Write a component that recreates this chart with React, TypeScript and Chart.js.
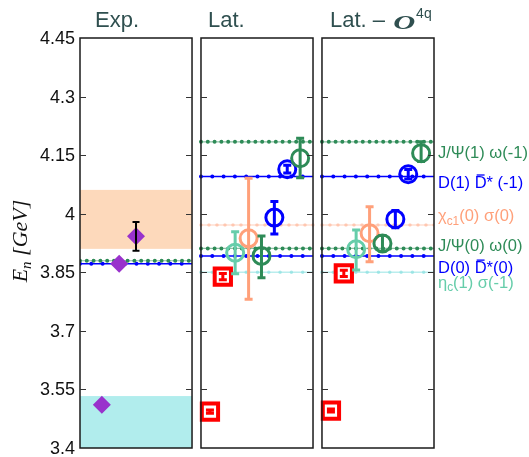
import { useEffect, useRef } from "react";
import { Chart, registerables } from "chart.js";

Chart.register(...registerables);

// ---------------- data ----------------
const panelTitles = ["Exp.", "Lat.", "Lat. – "];
const panelStarts = [0, 1.08, 2.16];
const panelWidth = 1;
const yMin = 3.4;
const yMax = 4.45;
const yTicks = [3.4, 3.55, 3.7, 3.85, 4.0, 4.15, 4.3, 4.45];

// experimental panel
const expBandLow = [3.91, 3.38];
const expBandHigh = [4.061, 3.533];
const expThresholdValues = [3.8796, 3.8717]; // J/Psi omega, D Dbar*
const expLevelSlots = [0.195, 0.35, 0.5];
const expLevelValues = [3.5107, 3.8717, 3.942];
const expLevelErrors = [0, 0, 0.037];

// non-interacting thresholds (lattice); _{..} = subscript, ~{..} = overbar
const thresholdLabels = [
  "J/Ψ(1) ω(-1)",
  "D(1) ~{D}* (-1)",
  "χ_{c1}(0) σ(0)",
  "J/Ψ(0) ω(0)",
  "D(0) ~{D}*(0)",
  "η_{c}(1) σ(-1)",
];
const thresholdValues = [4.184, 4.095, 3.971, 3.911, 3.892, 3.85];
const thresholdLabelValues = [4.155, 4.078, 3.992, 3.917, 3.86, 3.822];

// lattice levels
const levelSlots = [0.08, 0.195, 0.305, 0.425, 0.54, 0.655, 0.77, 0.885];
const latValues = [3.493, 3.839, 3.9, 3.937, 3.892, 3.99, 4.114, 4.142];
const latErrHi = [0.004, 0.008, 0.054, 0.154, 0.051, 0.041, 0.01, 0.051];
const latErrLo = [0.004, 0.008, 0.054, 0.156, 0.056, 0.042, 0.01, 0.05];
const o4qValues = [3.496, 3.847, 3.909, 3.95, 3.924, 3.986, 4.101, 4.155];
const o4qErrHi = [0.004, 0.008, 0.049, 0.068, 0.02, 0.022, 0.012, 0.029];
const o4qErrLo = [0.004, 0.008, 0.053, 0.073, 0.02, 0.022, 0.012, 0.021];

// ---------------- styles ----------------
const RED = "#ff0000";
const AQUA = "#66cdaa";
const ORANGE = "#ffa07a";
const GREEN = "#2e8b57";
const BLUE = "#0000ff";
const PURPLE = "#9932cc";
const levelKinds = ["square", "square", "circle", "circle", "circle", "circle", "circle", "circle"];
const levelColors = [RED, RED, AQUA, ORANGE, GREEN, BLUE, BLUE, GREEN];
const thresholdColors = [GREEN, BLUE, ORANGE, GREEN, BLUE, AQUA];
const thresholdStyles = ["green", "blue", "orange", "green", "blue", "cyan"];
const expThresholdStyles = ["green", "blue"];
const expBandColors = ["#fdd9bb", "#b1eded"];
const titleOffsets = [15, 7, 8];

const lineStyles: Record<string, any> = {
  green: { line: "rgba(46,139,87,0.55)", lw: 1.2, dot: GREEN, dw: 4, gap: 6.8 },
  blue: { line: BLUE, lw: 1.5, dot: BLUE, dw: 4, gap: 11.3 },
  orange: { line: "rgba(255,160,122,0.35)", lw: 1.6, dot: "rgba(255,160,122,0.45)", dw: 3.5, gap: 8 },
  cyan: { line: "rgba(140,225,225,0.6)", lw: 1.6, dot: "rgba(140,225,225,0.7)", dw: 3.5, gap: 11.3 },
};

const SANS = "'Liberation Sans', Arial, Helvetica, sans-serif";
const SERIF = "'Liberation Serif', 'Times New Roman', serif";

function drawRich(ctx: CanvasRenderingContext2D, text: string, x: number, y: number, size: number, color: string) {
  const re = /([_~])\{([^}]*)\}/g;
  const parts: { t: string; kind: string }[] = [];
  let last = 0;
  let m: RegExpExecArray | null;
  while ((m = re.exec(text))) {
    if (m.index > last) parts.push({ t: text.slice(last, m.index), kind: "n" });
    parts.push({ t: m[2], kind: m[1] === "_" ? "sub" : "bar" });
    last = m.index + m[0].length;
  }
  if (last < text.length) parts.push({ t: text.slice(last), kind: "n" });
  let cx = x;
  ctx.fillStyle = color;
  ctx.strokeStyle = color;
  ctx.textAlign = "left";
  ctx.textBaseline = "middle";
  parts.forEach((p) => {
    const sub = p.kind === "sub";
    ctx.font = `${sub ? size * 0.72 : size}px ${SANS}`;
    ctx.fillText(p.t, cx, y + (sub ? size * 0.28 : 0));
    const w = ctx.measureText(p.t).width;
    if (p.kind === "bar") {
      ctx.lineWidth = 1.3;
      ctx.beginPath();
      ctx.moveTo(cx + 2, y - size * 0.5);
      ctx.lineTo(cx + w - 2, y - size * 0.5);
      ctx.stroke();
    }
    cx += w;
  });
}

function thresholdDatasets(x0: number, x1: number, y: number, styleKey: string) {
  const st = lineStyles[styleKey];
  const data = [
    { x: x0, y },
    { x: x1, y },
  ];
  return [
    {
      data,
      borderColor: st.line,
      borderWidth: st.lw,
      pointRadius: 0,
      order: 2,
    },
    {
      data,
      borderColor: st.dot,
      borderWidth: st.dw,
      borderDash: [0, st.gap],
      borderCapStyle: "round",
      pointRadius: 0,
      order: 1,
    },
  ];
}

function levelDataset(start: number, values: number[], hi: number[], lo: number[]) {
  return {
    data: levelSlots.map((s, i) => ({ x: start + s, y: values[i] })),
    showLine: false,
    pointStyle: levelKinds.map((k) => (k === "square" ? "rect" : "circle")),
    pointRadius: levelKinds.map((k) => (k === "square" ? 11.5 : 8.5)),
    pointBorderWidth: levelKinds.map((k) => (k === "square" ? 4 : 3)),
    pointBorderColor: levelColors,
    pointBackgroundColor: levelKinds.map((k) => (k === "square" ? "#ffffff" : "rgba(0,0,0,0)")),
    errHi: hi,
    errLo: lo,
    errColors: levelColors,
    errWidth: 3,
    capHalf: 4,
    order: 0,
  };
}

const customPlugin = {
  id: "custom",
  beforeDatasetsDraw(chart: any) {
    const { ctx, scales } = chart;
    const x = scales.x;
    const y = scales.y;
    const left = x.getPixelForValue(panelStarts[0]);
    const right = x.getPixelForValue(panelStarts[0] + panelWidth);
    ctx.save();
    expBandLow.forEach((lo, i) => {
      const top = y.getPixelForValue(Math.min(expBandHigh[i], yMax));
      const bot = y.getPixelForValue(Math.max(lo, yMin));
      ctx.fillStyle = expBandColors[i];
      ctx.fillRect(left, top, right - left, bot - top);
    });
    ctx.restore();
  },
  afterDatasetDraw(chart: any, args: any) {
    const ds = chart.data.datasets[args.index];
    if (!ds.errHi) return;
    const { ctx } = chart;
    const y = chart.scales.y;
    ctx.save();
    args.meta.data.forEach((pt: any, j: number) => {
      const hi = ds.errHi[j];
      const lo = ds.errLo[j];
      if (!hi && !lo) return;
      const v = ds.data[j].y;
      const top = y.getPixelForValue(v + hi);
      const bot = y.getPixelForValue(v - lo);
      ctx.strokeStyle = ds.errColors[j];
      ctx.lineWidth = ds.errWidth;
      ctx.lineCap = "butt";
      ctx.beginPath();
      ctx.moveTo(pt.x, top);
      ctx.lineTo(pt.x, bot);
      ctx.moveTo(pt.x - ds.capHalf, top);
      ctx.lineTo(pt.x + ds.capHalf, top);
      ctx.moveTo(pt.x - ds.capHalf, bot);
      ctx.lineTo(pt.x + ds.capHalf, bot);
      ctx.stroke();
    });
    ctx.restore();
  },
  afterDraw(chart: any) {
    const { ctx, scales, chartArea } = chart;
    const x = scales.x;
    const y = scales.y;
    ctx.save();
    // frames and inward ticks
    panelStarts.forEach((s) => {
      const l = x.getPixelForValue(s);
      const r = x.getPixelForValue(s + panelWidth);
      ctx.strokeStyle = "#1a1a1a";
      ctx.lineWidth = 1.5;
      ctx.strokeRect(l, chartArea.top, r - l, chartArea.bottom - chartArea.top);
      ctx.strokeStyle = "#333";
      ctx.lineWidth = 1.2;
      yTicks.forEach((t) => {
        if (t === yMin || t === yMax) return;
        const py = Math.round(y.getPixelForValue(t)) + 0.5;
        ctx.beginPath();
        ctx.moveTo(l, py);
        ctx.lineTo(l + 6, py);
        ctx.moveTo(r, py);
        ctx.lineTo(r - 6, py);
        ctx.stroke();
      });
    });
    // y tick labels
    ctx.fillStyle = "#111";
    ctx.font = `18px ${SANS}`;
    ctx.textAlign = "right";
    ctx.textBaseline = "middle";
    yTicks.forEach((t) => {
      ctx.fillText(String(+t.toFixed(2)), chartArea.left - 5, y.getPixelForValue(t) + 1);
    });
    // titles
    ctx.fillStyle = "#2f4f4f";
    ctx.textBaseline = "alphabetic";
    ctx.textAlign = "left";
    panelTitles.forEach((t, i) => {
      const px = x.getPixelForValue(panelStarts[i]) + titleOffsets[i];
      ctx.font = `22px ${SANS}`;
      ctx.fillText(t, px, 27);
      if (i === 2) {
        let cx = px + ctx.measureText(t).width + 2;
        ctx.save();
        ctx.translate(cx, 29);
        ctx.scale(1.45, 0.9);
        ctx.font = `italic bold 21px ${SERIF}`;
        ctx.fillText("O", 0, 0);
        const w = ctx.measureText("O").width * 1.45;
        ctx.restore();
        cx += w + 1;
        ctx.font = `14px ${SANS}`;
        ctx.fillText("4q", cx, 18);
      }
    });
    // y-axis title
    ctx.save();
    ctx.translate(21, 241);
    ctx.rotate(-Math.PI / 2);
    ctx.fillStyle = "#111";
    ctx.textBaseline = "middle";
    ctx.textAlign = "left";
    const big = `italic 22px ${SERIF}`;
    const small = `italic 15px ${SERIF}`;
    ctx.font = big;
    const wE = ctx.measureText("E").width;
    const rest = " [GeV]";
    const wR = ctx.measureText(rest).width;
    ctx.font = small;
    const wN = ctx.measureText("n").width;
    const total = wE + wN + wR;
    let cx = -total / 2;
    ctx.font = big;
    ctx.fillText("E", cx, 0);
    cx += wE;
    ctx.font = small;
    ctx.fillText("n", cx, 6);
    cx += wN;
    ctx.font = big;
    ctx.fillText(rest, cx, 0);
    ctx.restore();
    // right labels
    const lx = chartArea.right + 4;
    thresholdLabels.forEach((lab, i) => {
      drawRich(ctx, lab, lx, y.getPixelForValue(thresholdLabelValues[i]), 16.5, thresholdColors[i]);
    });
    ctx.restore();
  },
};

export default function App() {
  const ref = useRef<HTMLCanvasElement>(null);
  useEffect(() => {
    const canvas = ref.current!;
    const datasets: any[] = [];
    // levels (drawn on top)
    datasets.push({
      data: expLevelSlots.map((s, i) => ({ x: panelStarts[0] + s, y: expLevelValues[i] })),
      showLine: false,
      pointStyle: "rectRot",
      pointRadius: 9,
      pointBorderWidth: 0,
      pointBorderColor: PURPLE,
      pointBackgroundColor: PURPLE,
      errHi: expLevelErrors,
      errLo: expLevelErrors,
      errColors: expLevelErrors.map(() => "#000000"),
      errWidth: 2,
      capHalf: 3.5,
      order: 0,
    });
    datasets.push(levelDataset(panelStarts[1], latValues, latErrHi, latErrLo));
    datasets.push(levelDataset(panelStarts[2], o4qValues, o4qErrHi, o4qErrLo));
    // thresholds
    expThresholdValues.forEach((v, i) => {
      datasets.push(...thresholdDatasets(panelStarts[0], panelStarts[0] + panelWidth, v, expThresholdStyles[i]));
    });
    [1, 2].forEach((p) => {
      thresholdValues.forEach((v, i) => {
        datasets.push(...thresholdDatasets(panelStarts[p], panelStarts[p] + panelWidth, v, thresholdStyles[i]));
      });
    });

    const chart = new Chart(canvas, {
      type: "line",
      data: { datasets },
      options: {
        responsive: false,
        animation: false,
        devicePixelRatio: 1,
        layout: { autoPadding: false, padding: { left: 80, right: 95, top: 38, bottom: 9 } },
        plugins: {
          legend: { display: false },
          tooltip: { enabled: false },
          title: { display: false },
        },
        scales: {
          x: { type: "linear", min: 0, max: panelStarts[2] + panelWidth, display: false },
          y: {
            type: "linear",
            min: yMin,
            max: yMax,
            display: false,
            afterBuildTicks: (s: any) => {
              s.ticks = yTicks.map((v) => ({ value: v }));
            },
          },
        },
      } as any,
      plugins: [customPlugin],
    });
    return () => chart.destroy();
  }, []);
  return (
    <div style={{ position: "absolute", left: 0, top: 0, width: 529, height: 457 }}>
      <canvas ref={ref} width={529} height={457} style={{ display: "block" }} />
    </div>
  );
}
